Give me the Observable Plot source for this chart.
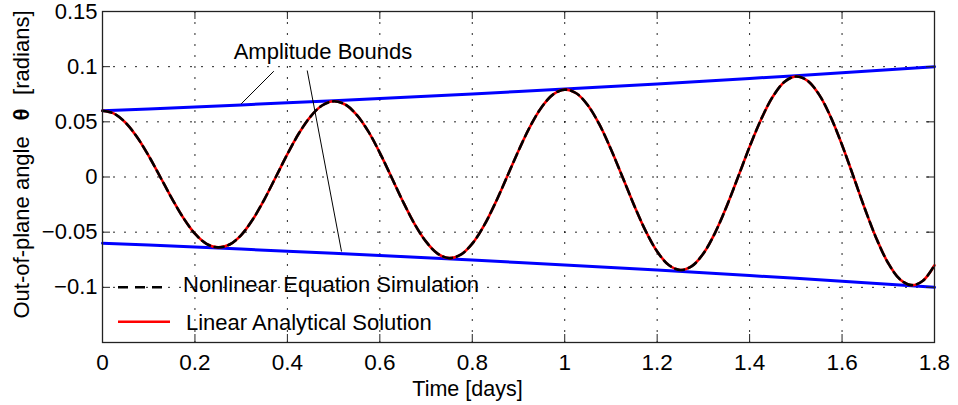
<!DOCTYPE html>
<html><head><meta charset="utf-8">
<script src="https://cdn.jsdelivr.net/npm/d3@7"></script>
<script src="https://cdn.jsdelivr.net/npm/@observablehq/plot@0.6"></script>
<style>
body{margin:0;background:#fff;}
#wrap{position:relative;width:958px;height:405px;font-family:"Liberation Sans",Arial,sans-serif;}
#wrap svg{display:block;}
#legend{position:absolute;left:0;top:0;pointer-events:none;}
</style></head><body><div id="wrap"></div>
<script>
// ---- data ----
const time = [0,0.025,0.05,0.075,0.1,0.125,0.15,0.175,0.2,0.225,0.25,0.275,0.3,0.325,0.35,0.375,0.4,0.425,0.45,0.475,0.5,0.525,0.55,0.575,0.6,0.625,0.65,0.675,0.7,0.725,0.75,0.775,0.8,0.825,0.85,0.875,0.9,0.925,0.95,0.975,1.0,1.025,1.05,1.075,1.1,1.125,1.15,1.175,1.2,1.225,1.25,1.275,1.3,1.325,1.35,1.375,1.4,1.425,1.45,1.475,1.5,1.525,1.55,1.575,1.6,1.625,1.65,1.675,1.7,1.725,1.75,1.775,1.8];
const linearSolution = [0.0600,0.0575,0.0492,0.0360,0.0191,0,-0.0194,-0.0371,-0.0514,-0.0606,-0.0638,-0.0612,-0.0526,-0.0385,-0.0204,0,0.0207,0.0396,0.0548,0.0648,0.0686,0.0657,0.0563,0.0413,0.0219,0,-0.0222,-0.0424,-0.0586,-0.0694,-0.0735,-0.0704,-0.0604,-0.0443,-0.0235,0,0.0238,0.0457,0.0633,0.0749,0.0792,0.0759,0.0650,0.0476,0.0251,0,-0.0255,-0.0488,-0.0675,-0.0798,-0.0843,-0.0808,-0.0693,-0.0508,-0.0269,0,0.0274,0.0524,0.0727,0.0861,0.0911,0.0874,0.0749,0.0548,0.0290,0,-0.0295,-0.0564,-0.0782,-0.0926,-0.0980,-0.0940,-0.0800];
const nonlinearSimulation = [0.0600,0.0575,0.0492,0.0360,0.0191,0,-0.0194,-0.0371,-0.0514,-0.0606,-0.0638,-0.0612,-0.0526,-0.0385,-0.0204,0,0.0207,0.0396,0.0548,0.0648,0.0686,0.0657,0.0563,0.0413,0.0219,0,-0.0222,-0.0424,-0.0586,-0.0694,-0.0735,-0.0704,-0.0604,-0.0443,-0.0235,0,0.0238,0.0457,0.0633,0.0749,0.0792,0.0759,0.0650,0.0476,0.0251,0,-0.0255,-0.0488,-0.0675,-0.0798,-0.0843,-0.0808,-0.0693,-0.0508,-0.0269,0,0.0274,0.0524,0.0727,0.0861,0.0911,0.0874,0.0749,0.0548,0.0290,0,-0.0295,-0.0564,-0.0782,-0.0926,-0.0980,-0.0940,-0.0800];
const boundTime = [0,0.1,0.2,0.3,0.4,0.5,0.6,0.7,0.8,0.9,1.0,1.1,1.2,1.3,1.4,1.5,1.6,1.7,1.8];
const upperBound = [0.0600,0.0617,0.0635,0.0653,0.0672,0.0692,0.0711,0.0732,0.0753,0.0775,0.0797,0.0820,0.0843,0.0868,0.0893,0.0918,0.0945,0.0972,0.1000];
const lowerBound = [-0.0600,-0.0617,-0.0635,-0.0653,-0.0672,-0.0692,-0.0711,-0.0732,-0.0753,-0.0775,-0.0797,-0.0820,-0.0843,-0.0868,-0.0893,-0.0918,-0.0945,-0.0972,-0.1000];
const xTicks = [0,0.2,0.4,0.6,0.8,1.0,1.2,1.4,1.6,1.8];
const xTickLabels = ["0","0.2","0.4","0.6","0.8","1","1.2","1.4","1.6","1.8"];
const yTicks = [-0.1,-0.05,0,0.05,0.1,0.15];
const yTickLabels = ["\u22120.1","\u22120.05","0","0.05","0.1","0.15"];
const annotationLabel = ["Amplitude Bounds"];
const annotationT = [0.477];
const annotationV = [0.1134];
const leaderT1 = [0.3706,0.4429];
const leaderV1 = [0.0959,0.0965];
const leaderT2 = [0.3001,0.5171];
const leaderV2 = [0.0663,-0.0675];
const legendLabels = ["Nonlinear Equation Simulation","Linear Analytical Solution"];
const legendColors = ["#000000","#ff0000"];
const legendDash = ["10,7",null];
const xLabel = "Time [days]";
const yLabelParts = ["Out-of-plane angle","\u03b8","[radians]"];

// ---- layout ----
const W = 958, H = 405;
const mL = 102, mR = 24, mT = 11, mB = 63;
const plotW = W - mL - mR, plotH = H - mT - mB;
const font = '"Liberation Sans", Arial, Helvetica, sans-serif';

const series = time.map((t, i) => ({t, lin: linearSolution[i], non: nonlinearSimulation[i]}));
const bounds = boundTime.map((t, i) => ({t, up: upperBound[i], lo: lowerBound[i]}));
const leaders = leaderT1.map((t, i) => ({x1: t, y1: leaderV1[i], x2: leaderT2[i], y2: leaderV2[i]}));
const annotation = annotationLabel.map((s, i) => ({s, t: annotationT[i], v: annotationV[i]}));
const gridX = xTicks.filter(d => d > 0 && d < 1.8);
const gridY = yTicks.filter(d => d < 0.15);
const gridStyle = {stroke: "#000", strokeWidth: 1, strokeDasharray: "2,9", strokeOpacity: 0.85};

const chart = Plot.plot({
  width: W, height: H,
  marginLeft: mL, marginRight: mR, marginTop: mT, marginBottom: mB,
  x: {domain: [0, 1.8]},
  y: {domain: [-0.15, 0.15]},
  style: {fontFamily: font, fontSize: "22px", color: "#000", background: "#fff", overflow: "visible"},
  marks: [
    Plot.ruleX(gridX, gridStyle),
    Plot.ruleY(gridY, gridStyle),
    Plot.line(bounds, {x: "t", y: "up", stroke: "#0000ff", strokeWidth: 3}),
    Plot.line(bounds, {x: "t", y: "lo", stroke: "#0000ff", strokeWidth: 3}),
    Plot.line(series, {x: "t", y: "lin", stroke: "#ff0000", strokeWidth: 2.6, curve: "catmull-rom"}),
    Plot.line(series, {x: "t", y: "non", stroke: "#000", strokeWidth: 2.6, strokeDasharray: "9,5", curve: "catmull-rom"}),
    Plot.link(leaders, {x1: "x1", y1: "y1", x2: "x2", y2: "y2", stroke: "#000", strokeWidth: 1}),
    Plot.text(annotation, {x: "t", y: "v", text: "s", fontSize: 22, fill: "#000"}),
    Plot.frame({stroke: "#222", strokeWidth: 1.3}),
    Plot.ruleX(xTicks, {insetTop: plotH - 8, stroke: "#222", strokeWidth: 1}),
    Plot.ruleX(xTicks, {insetBottom: plotH - 8, stroke: "#222", strokeWidth: 1}),
    Plot.ruleY(yTicks, {insetLeft: plotW - 8, stroke: "#222", strokeWidth: 1}),
    Plot.ruleY(yTicks, {insetRight: plotW - 8, stroke: "#222", strokeWidth: 1}),
    Plot.axisX(xTicks, {tickSize: 0, tickPadding: 12, fontSize: 22.5, label: null,
      tickFormat: d => xTickLabels[xTicks.indexOf(d)]}),
    Plot.axisY(yTicks, {tickSize: 0, tickPadding: 5, fontSize: 22, label: null,
      tickFormat: d => yTickLabels[yTicks.indexOf(d)]}),
    Plot.text([xLabel], {frameAnchor: "bottom", dx: -51, dy: 53, lineAnchor: "bottom", fontSize: 21.5, fill: "#000"}),
    Plot.text([yLabelParts[0]], {frameAnchor: "left", rotate: -90, textAnchor: "start", lineAnchor: "bottom", dx: -74, dy: 141.5, fontSize: 22, fill: "#000"}),
    Plot.text([yLabelParts[1]], {frameAnchor: "left", rotate: -90, textAnchor: "middle", lineAnchor: "bottom", dx: -74, dy: -62.5, fontSize: 22, fontWeight: "bold", fill: "#000"}),
    Plot.text([yLabelParts[2]], {frameAnchor: "left", rotate: -90, textAnchor: "end", lineAnchor: "bottom", dx: -74, dy: -166.5, fontSize: 22, fill: "#000"})
  ]
});
const wrap = document.getElementById("wrap");
wrap.appendChild(chart);

// ---- legend (overlay, no box) ----
const lg = d3.select(wrap).append("svg").attr("id", "legend").attr("width", W).attr("height", H)
  .style("font-family", font);
const rowsY = [287.3, 321.7];
const swatchX = [[118, 166], [118, 170]];
const textX = [183, 186];
const baseY = [292.3, 330];
legendLabels.forEach((lab, i) => {
  const ln = lg.append("line").attr("x1", swatchX[i][0]).attr("x2", swatchX[i][1])
    .attr("y1", rowsY[i]).attr("y2", rowsY[i])
    .attr("stroke", legendColors[i]).attr("stroke-width", 2.6);
  if (legendDash[i]) ln.attr("stroke-dasharray", legendDash[i]);
  lg.append("text").attr("x", textX[i]).attr("y", baseY[i]).attr("font-size", 22)
    .attr("fill", "#000").text(lab);
});
</script></body></html>
